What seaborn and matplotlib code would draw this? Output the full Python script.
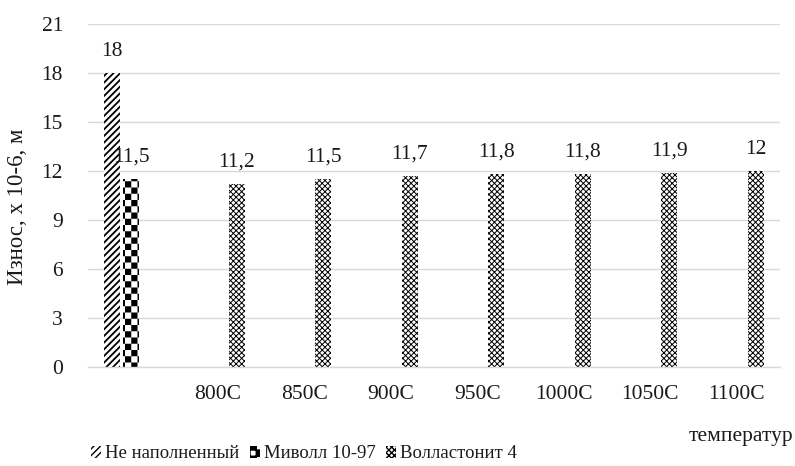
import numpy as np
import pandas as pd
import matplotlib
matplotlib.use("Agg")
import matplotlib.pyplot as plt
from matplotlib import hatch as mhatch
from matplotlib.path import Path
from matplotlib.patches import Patch
import seaborn as sns

# ---- data -------------------------------------------------------------
categories = ["", "800C", "850C", "900C", "950C", "1000C", "1050C", "1100C"]
series = ["Не наполненный", "Миволл 10-97", "Волластонит 4"]
unfilled_values = [18]            # first group only
mivoll_values = [11.5]            # first group only
wollastonite_values = [11.2, 11.5, 11.7, 11.8, 11.8, 11.9, 12]  # 800C..1100C
y_ticks = [0, 3, 6, 9, 12, 15, 18, 21]


# ---- checkerboard hatch (uses the 'O' character) -----------------------
class CheckerHatch(mhatch.HatchPatternBase):
    def __init__(self, hatch, density):
        self.n = hatch.count("O") * 8
        self.cells = [(i, j) for i in range(self.n) for j in range(self.n)
                      if (i + j) % 2 == 0]
        self.num_vertices = len(self.cells) * 5 if self.n else 0

    def set_vertices_and_codes(self, vertices, codes):
        s = 1.0 / self.n
        k = 0
        for i, j in self.cells:
            x0, y0 = j * s, i * s
            vertices[k:k + 5] = [(x0, y0), (x0 + s, y0), (x0 + s, y0 + s),
                                 (x0, y0 + s), (x0, y0)]
            codes[k:k + 5] = [Path.MOVETO, Path.LINETO, Path.LINETO,
                              Path.LINETO, Path.CLOSEPOLY]
            k += 5


mhatch._hatch_types = [t for t in mhatch._hatch_types
                       if t is not mhatch.LargeCircles] + [CheckerHatch]

# ---- long-form table ---------------------------------------------------
rows = []
rows.append((categories[0], series[0], unfilled_values[0]))
rows.append((categories[0], series[1], mivoll_values[0]))
for cat, v in zip(categories[1:], wollastonite_values):
    rows.append((cat, series[2], v))
df = pd.DataFrame(rows, columns=["cat", "series", "value"])

# ---- styling -----------------------------------------------------------
sns.set_theme(style="white")
plt.rcParams["font.family"] = ["Liberation Serif", "DejaVu Serif"]
plt.rcParams["hatch.linewidth"] = 1.0
FS = 15.5
TXT = "#1a1a1a"

fig = plt.figure(figsize=(7.95, 4.66), dpi=100)
ax = fig.add_axes([88 / 795, 99 / 466, 692 / 795, 343 / 466])

sns.barplot(data=df, x="cat", y="value", hue="series", order=categories,
            hue_order=series, ax=ax, width=0.66, gap=0.18,
            palette=["white", "white", "white"], legend=False,
            edgecolor="black", linewidth=0, saturation=1)

hatches = ["/////", "OO", "xxxxxx"]
hatch_lw = [1.3, 0.0, 0.7]
for cont, h, lw in zip(ax.containers, hatches, hatch_lw):
    for bar in cont:
        bar.set_hatch(h)
        bar.set_edgecolor("black")
        bar.set_linewidth(0)
        if hasattr(bar, "set_hatch_linewidth"):
            bar.set_hatch_linewidth(lw)
    ax.bar_label(cont, fmt=lambda v: f"{v:g}".replace(".", ","),
                 padding=9, fontsize=FS, color=TXT)

ax.set_ylim(0, 21)
ax.set_yticks(y_ticks)
ax.set_xlim(-0.5, len(categories) - 0.5)
ax.yaxis.grid(True, color="#d9d9d9", linewidth=1.0)
ax.set_axisbelow(True)
for side in ["left", "right", "top"]:
    ax.spines[side].set_visible(False)
ax.spines["bottom"].set_color("#d9d9d9")
ax.spines["bottom"].set_linewidth(1.0)
ax.tick_params(axis="both", length=0, labelsize=FS, colors=TXT)
ax.tick_params(axis="x", pad=13)
ax.tick_params(axis="y", pad=18)
ax.set_xlabel("")
ax.set_ylabel("")

fig.text(18 / 795, 1 - 207 / 466, "Износ, х 10-6, м", rotation=90,
         ha="center", va="center", fontsize=16.5, color=TXT)
fig.text(793 / 795, 1 - 436 / 466, "температур", ha="right", va="center",
         fontsize=15.5, color=TXT)

# ---- legend ------------------------------------------------------------
handles = []
for h, lw in zip(hatches, hatch_lw):
    p = Patch(facecolor="white", edgecolor="black", linewidth=0, hatch=h)
    if hasattr(p, "set_hatch_linewidth"):
        p.set_hatch_linewidth(lw)
    handles.append(p)
fig.legend(handles, series, loc="center", bbox_to_anchor=(304 / 795, 12 / 466),
           ncol=3, frameon=False, fontsize=13.5, handlelength=0.55,
           handleheight=0.55, handletextpad=0.2, columnspacing=0.55,
           labelcolor=TXT, borderpad=0.2)

fig.savefig("out.png", dpi=100)
